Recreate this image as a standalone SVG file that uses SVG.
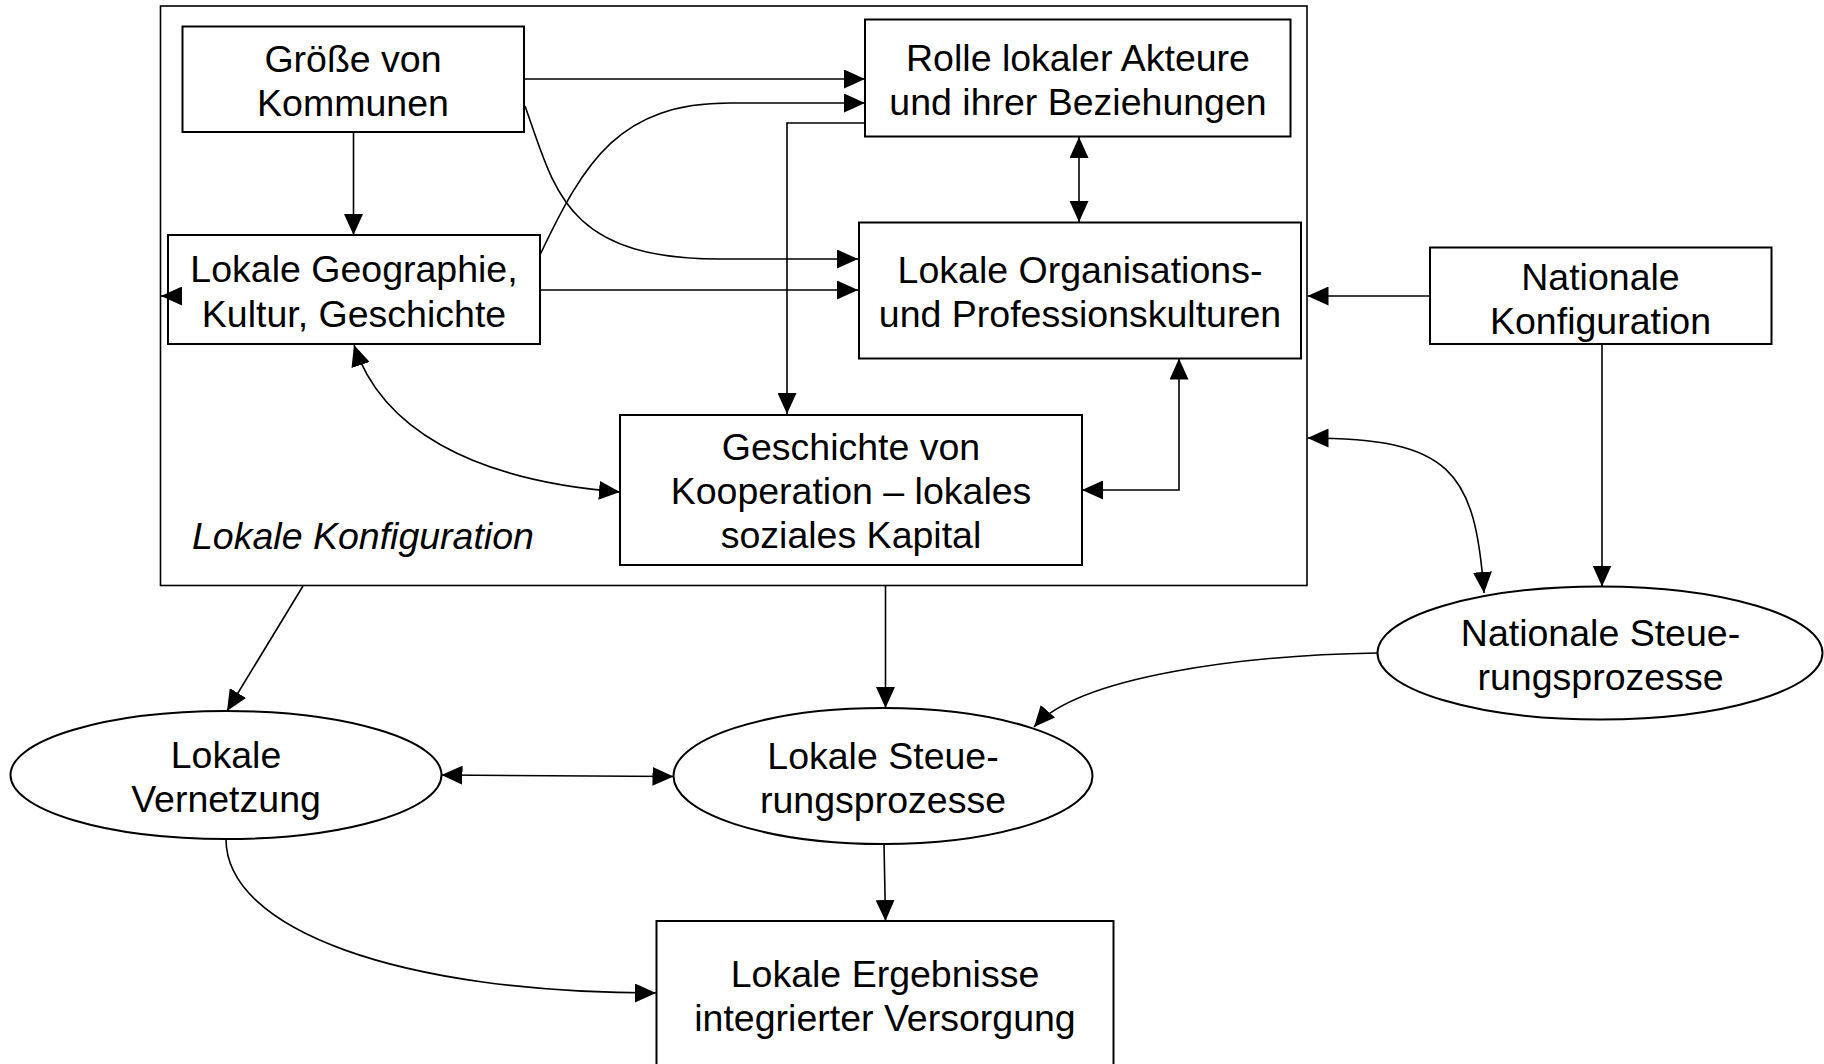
<svg xmlns="http://www.w3.org/2000/svg" width="1824" height="1064" viewBox="0 0 1824 1064">
<defs>
<marker id="arr" viewBox="0 0 21 19" refX="21" refY="9.5" markerWidth="21" markerHeight="19" markerUnits="userSpaceOnUse" orient="auto-start-reverse">
<path d="M0,0 L21,9.5 L0,19 Z" fill="#000"/>
</marker>
<style>
.box{fill:#fff;stroke:#000;stroke-width:2}
.outer{fill:#fff;stroke:#000;stroke-width:1.6}
.t{font-family:"Liberation Sans",Arial,sans-serif;font-size:37.5px;fill:#000;text-anchor:middle}
.it{font-family:"Liberation Sans",Arial,sans-serif;font-size:37.5px;fill:#000;font-style:italic}
.c{fill:none;stroke:#000;stroke-width:1.6}
.ce{marker-end:url(#arr)}
.cb{marker-start:url(#arr);marker-end:url(#arr)}
</style>
</defs>
<rect width="1824" height="1064" fill="#fff"/>
<g id="lokale-konfiguration">
<rect class="outer" x="160.5" y="6" width="1146.5" height="579.5"/>
<text class="it" x="192" y="548.5">Lokale Konfiguration</text>
</g>
<g id="groesse">
<rect class="box" x="182.5" y="26.5" width="341.5" height="105.5"/>
<text class="t" x="353" y="71.5">Größe von</text>
<text class="t" x="353" y="115.5">Kommunen</text>
</g>
<g id="geographie">
<rect class="box" x="168" y="235" width="372" height="109"/>
<text class="t" x="354" y="281.5">Lokale Geographie,</text>
<text class="t" x="354" y="326.5">Kultur, Geschichte</text>
</g>
<g id="rolle">
<rect class="box" x="865" y="19.5" width="425.5" height="117"/>
<text class="t" x="1078" y="70.5">Rolle lokaler Akteure</text>
<text class="t" x="1078" y="114.5">und ihrer Beziehungen</text>
</g>
<g id="organisations">
<rect class="box" x="859" y="222.5" width="442" height="136"/>
<text class="t" x="1080" y="282.5">Lokale Organisations-</text>
<text class="t" x="1080" y="326.5">und Professionskulturen</text>
</g>
<g id="geschichte">
<rect class="box" x="620" y="415" width="462" height="150"/>
<text class="t" x="851" y="459.5">Geschichte von</text>
<text class="t" x="851" y="503.5">Kooperation – lokales</text>
<text class="t" x="851" y="547.5">soziales Kapital</text>
</g>
<g id="nationale-konfiguration">
<rect class="box" x="1430" y="247.5" width="341.5" height="96.5"/>
<text class="t" x="1600.5" y="289.5">Nationale</text>
<text class="t" x="1600.5" y="333.5">Konfiguration</text>
</g>
<g id="nationale-steuerung">
<ellipse class="box" cx="1600" cy="653" rx="222.5" ry="66.5"/>
<text class="t" x="1600.5" y="645.5">Nationale Steue-</text>
<text class="t" x="1600.5" y="689.5">rungsprozesse</text>
</g>
<g id="lokale-vernetzung">
<ellipse class="box" cx="226" cy="775" rx="215.5" ry="64"/>
<text class="t" x="226" y="767.5">Lokale</text>
<text class="t" x="226" y="811.5">Vernetzung</text>
</g>
<g id="lokale-steuerung">
<ellipse class="box" cx="883" cy="776" rx="209.5" ry="68"/>
<text class="t" x="883" y="768.5">Lokale Steue-</text>
<text class="t" x="883" y="812.5">rungsprozesse</text>
</g>
<g id="ergebnisse">
<rect class="box" x="656.5" y="921" width="457" height="150"/>
<text class="t" x="885" y="986.5">Lokale Ergebnisse</text>
<text class="t" x="885" y="1030.5">integrierter Versorgung</text>
</g>
<g id="connectors">
<path class="c ce" d="M524,79 L865,79"/>
<path class="c ce" d="M525,106 C555,190 565,259 720,259 L858,259"/>
<path class="c ce" d="M540,255 C585,160 620,103 730,103 L865,103"/>
<path class="c ce" d="M540,290 L858,290"/>
<path class="c ce" d="M182,296 L161,296"/>
<path class="c ce" d="M353.5,132 L353.5,235"/>
<path class="c ce" d="M865,123 L787,123 L787,414"/>
<path class="c cb" d="M1079,137 L1079,222"/>
<path class="c ce" d="M1430,296 L1307.5,296"/>
<path class="c cb" d="M1307.5,438 C1450,438 1475,470 1484,593"/>
<path class="c ce" d="M1602,344 L1602,586.5"/>
<path class="c ce" d="M1377,653 C1250,655 1080,675 1034,727"/>
<path class="c ce" d="M303,586 L227,711"/>
<path class="c ce" d="M885.5,586 L885.5,708"/>
<path class="c cb" d="M441.5,775 L673.5,776.5"/>
<path class="c ce" d="M884,844 L885.5,921"/>
<path class="c ce" d="M226,839 C226,930 400,993 656,993"/>
<path class="c cb" d="M354,345 C381,427 469,480 620,492"/>
<path class="c cb" d="M1179,358.5 L1179,490 L1082,490"/>
</g>
</svg>
